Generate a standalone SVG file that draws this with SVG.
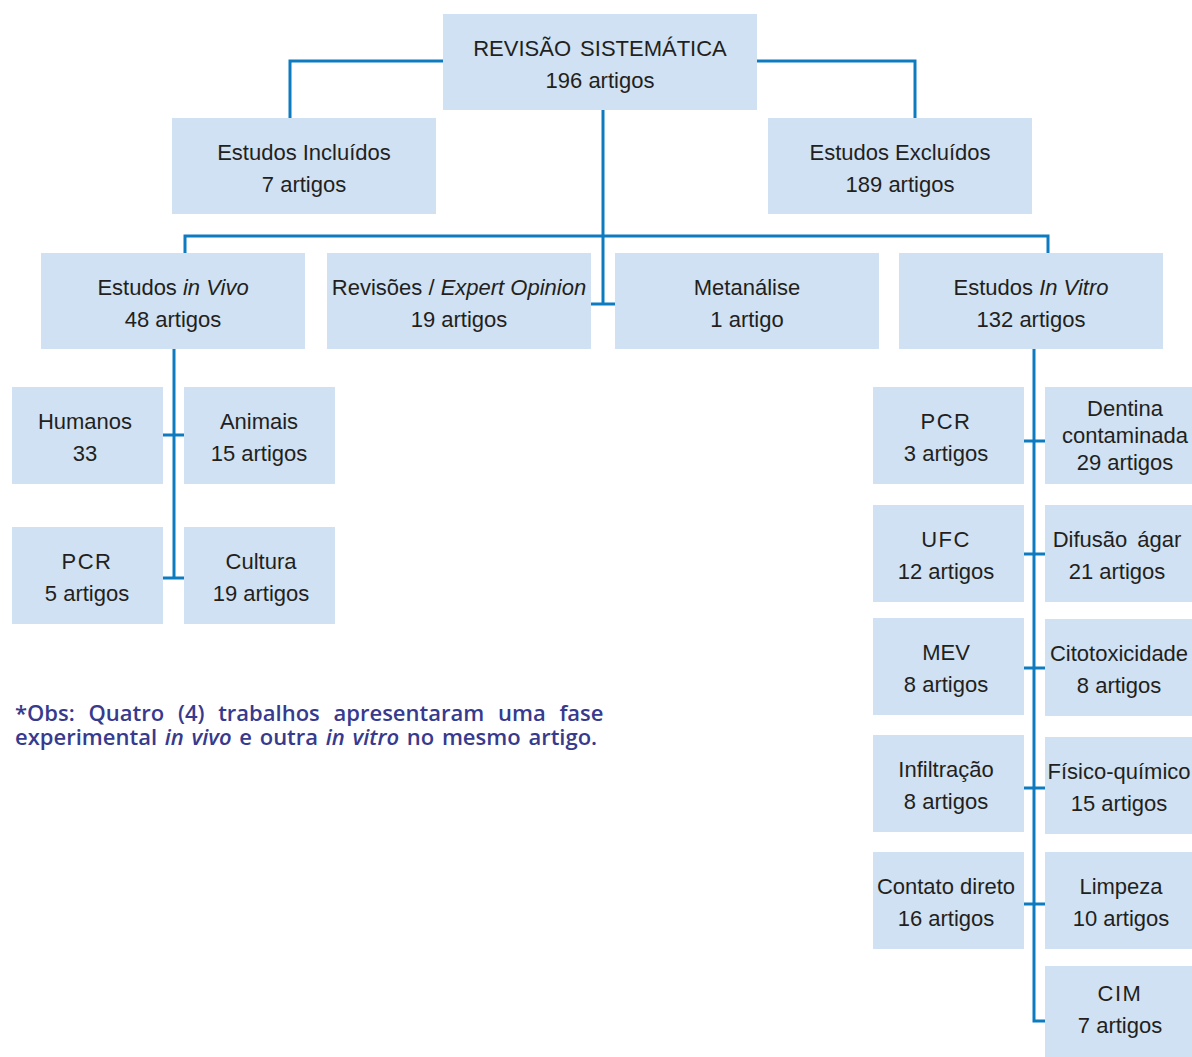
<svg xmlns="http://www.w3.org/2000/svg" width="1192" height="1057" viewBox="0 0 1192 1057">
<style>
.box{fill:#cfe1f2}
.t{font-family:"Liberation Sans",Arial,sans-serif;font-size:22px;fill:#231f20;text-anchor:middle}
.it{font-style:italic}
.ls{letter-spacing:1.5px}
.con{fill:none;stroke:#0d7bbf;stroke-width:3;stroke-linejoin:miter}
.note{font-family:"Open Sans","Noto Sans",sans-serif;font-weight:600;font-size:22px;fill:#373a8d}
</style>
<rect width="1192" height="1057" fill="#ffffff"/>
<g id="connectors">
<path class="con" d="M443,61 H290 V118"/>
<path class="con" d="M757,61 H915 V118"/>
<path class="con" d="M603,110 V304"/>
<path class="con" d="M591,304 H615"/>
<path class="con" d="M185,253 V236 H1048 V253"/>
<path class="con" d="M174,349 V578"/>
<path class="con" d="M163,435 H184"/>
<path class="con" d="M163,578 H184"/>
<path class="con" d="M1034,349 V1021 H1045"/>
<path class="con" d="M1024,441 H1045"/>
<path class="con" d="M1024,554 H1045"/>
<path class="con" d="M1024,668 H1045"/>
<path class="con" d="M1024,788 H1045"/>
<path class="con" d="M1024,904 H1045"/>
</g>
<g id="root"><rect class="box" x="443" y="14" width="314" height="96"/><text class="t" x="600" y="56" word-spacing="3">REVISÃO SISTEMÁTICA</text><text class="t" x="600" y="88">196 artigos</text></g>
<g id="incluidos"><rect class="box" x="172" y="118" width="264" height="96"/><text class="t" x="304" y="160">Estudos Incluídos</text><text class="t" x="304" y="192">7 artigos</text></g>
<g id="excluidos"><rect class="box" x="768" y="118" width="264" height="96"/><text class="t" x="900" y="160">Estudos Excluídos</text><text class="t" x="900" y="192">189 artigos</text></g>
<g id="invivo"><rect class="box" x="41" y="253" width="264" height="96"/><text class="t" x="173" y="295">Estudos <tspan class="it">in Vivo</tspan></text><text class="t" x="173" y="327">48 artigos</text></g>
<g id="revisoes"><rect class="box" x="327" y="253" width="264" height="96"/><text class="t" x="459" y="295">Revisões / <tspan class="it">Expert Opinion</tspan></text><text class="t" x="459" y="327">19 artigos</text></g>
<g id="metanalise"><rect class="box" x="615" y="253" width="264" height="96"/><text class="t" x="747" y="295">Metanálise</text><text class="t" x="747" y="327">1 artigo</text></g>
<g id="invitro"><rect class="box" x="899" y="253" width="264" height="96"/><text class="t" x="1031" y="295">Estudos <tspan class="it">In Vitro</tspan></text><text class="t" x="1031" y="327">132 artigos</text></g>
<g id="humanos"><rect class="box" x="12" y="387" width="151" height="97"/><text class="t" x="85" y="429">Humanos</text><text class="t" x="85" y="461">33</text></g>
<g id="animais"><rect class="box" x="184" y="387" width="151" height="97"/><text class="t" x="259" y="429">Animais</text><text class="t" x="259" y="461">15 artigos</text></g>
<g id="pcr-vivo"><rect class="box" x="12" y="527" width="151" height="97"/><text class="t ls" x="87" y="569">PCR</text><text class="t" x="87" y="601">5 artigos</text></g>
<g id="cultura"><rect class="box" x="184" y="527" width="151" height="97"/><text class="t" x="261" y="569">Cultura</text><text class="t" x="261" y="601">19 artigos</text></g>
<g id="pcr-vitro"><rect class="box" x="873" y="387" width="151" height="97"/><text class="t ls" x="946" y="429">PCR</text><text class="t" x="946" y="461">3 artigos</text></g>
<g id="dentina"><rect class="box" x="1045" y="387" width="147" height="97"/><text class="t" x="1125" y="416">Dentina</text><text class="t" x="1125" y="443">contaminada</text><text class="t" x="1125" y="470">29 artigos</text></g>
<g id="ufc"><rect class="box" x="873" y="505" width="151" height="97"/><text class="t ls" x="946" y="547">UFC</text><text class="t" x="946" y="579">12 artigos</text></g>
<g id="difusao"><rect class="box" x="1045" y="505" width="147" height="97"/><text class="t" x="1117" y="547" word-spacing="4">Difusão ágar</text><text class="t" x="1117" y="579">21 artigos</text></g>
<g id="mev"><rect class="box" x="873" y="618" width="151" height="97"/><text class="t" x="946" y="660">MEV</text><text class="t" x="946" y="692">8 artigos</text></g>
<g id="citotoxicidade"><rect class="box" x="1045" y="619" width="147" height="97"/><text class="t" x="1119" y="661">Citotoxicidade</text><text class="t" x="1119" y="693">8 artigos</text></g>
<g id="infiltracao"><rect class="box" x="873" y="735" width="151" height="97"/><text class="t" x="946" y="777">Infiltração</text><text class="t" x="946" y="809">8 artigos</text></g>
<g id="fisico"><rect class="box" x="1045" y="737" width="147" height="97"/><text class="t" x="1119" y="779">Físico-químico</text><text class="t" x="1119" y="811">15 artigos</text></g>
<g id="contato"><rect class="box" x="873" y="852" width="151" height="97"/><text class="t" x="946" y="894">Contato direto</text><text class="t" x="946" y="926">16 artigos</text></g>
<g id="limpeza"><rect class="box" x="1045" y="852" width="147" height="97"/><text class="t" x="1121" y="894">Limpeza</text><text class="t" x="1121" y="926">10 artigos</text></g>
<g id="cim"><rect class="box" x="1045" y="966" width="147" height="91"/><text class="t ls" x="1120" y="1001">CIM</text><text class="t" x="1120" y="1033">7 artigos</text></g>
<g id="note">
<text class="note" x="15" y="721" word-spacing="8">*Obs: Quatro (4) trabalhos apresentaram uma fase</text>
<text class="note" x="15" y="745" word-spacing="2">experimental <tspan class="it">in vivo</tspan> e outra <tspan class="it">in vitro</tspan> no mesmo artigo.</text>
</g>
</svg>
